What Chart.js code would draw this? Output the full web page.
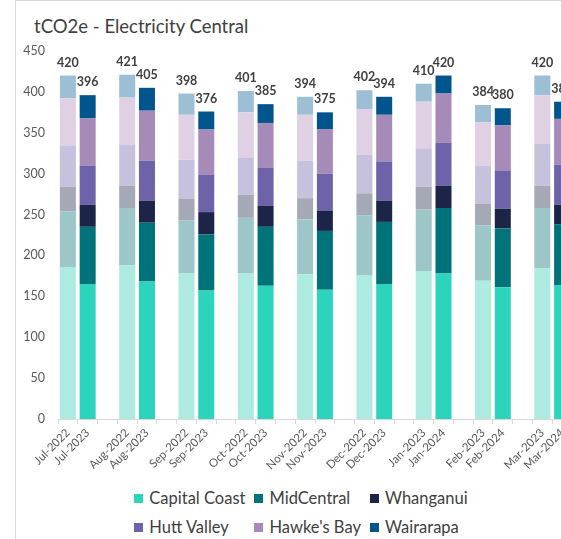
<!DOCTYPE html>
<html>
<head>
<meta charset="utf-8">
<script src="https://cdn.jsdelivr.net/npm/chart.js@4"></script>
<style>
  html, body { margin: 0; padding: 0; background: #fff; }
  body { width: 561px; height: 539px; overflow: hidden; position: relative; font-family: Lato, 'Open Sans', sans-serif; }
  .frame { position: absolute; left: 15px; top: 0; width: 620px; height: 620px; border-left: 1px solid #d9d9d9; border-top: 1px solid #d9d9d9; }
  .title { position: absolute; left: 34px; top: 15px; font-size: 18.5px; color: #404040; }
  #chartBox { position: absolute; left: 16px; top: 0; }
  #legend { position: absolute; left: 16px; top: 488px; width: 570px; display: flex; justify-content: center; }
  .legend-grid { display: grid; grid-template-columns: repeat(3, auto); column-gap: 9px; row-gap: 9px; }
  .legend-item { display: flex; align-items: center; font-size: 16.5px; line-height: 20px; color: #404040; white-space: nowrap; }
  .legend-item i { display: inline-block; width: 9px; height: 9px; margin-right: 6px; }
</style>
</head>
<body>
<div class="frame"></div>
<div class="title">tCO2e - Electricity Central</div>
<div id="chartBox"><canvas id="chart" width="560" height="482"></canvas></div>
<div id="legend"></div>

<script>
// one slot per bar, a blank slot between months
const categories = [
    'Jul-2022', 'Jul-2023', '',
    'Aug-2022', 'Aug-2023', '',
    'Sep-2022', 'Sep-2023', '',
    'Oct-2022', 'Oct-2023', '',
    'Nov-2022', 'Nov-2023', '',
    'Dec-2022', 'Dec-2023', '',
    'Jan-2023', 'Jan-2024', '',
    'Feb-2023', 'Feb-2024', '',
    'Mar-2023', 'Mar-2024'
];

// values per bar, prior year / current year alternating
const capitalCoast = [186, 165, 188, 168, 178, 157, 178, 163, 177, 158, 176, 165, 181, 178, 169, 161, 184, 164];
const midCentral   = [68, 70, 70, 72, 65, 69, 68, 72, 67, 72, 73, 76, 75, 80, 68, 72, 74, 74];
const whanganui    = [30, 27, 27, 27, 26, 27, 28, 26, 26, 25, 27, 26, 28, 27, 26, 24, 27, 24];
const huttValley   = [50, 48, 50, 49, 48, 46, 46, 46, 46, 45, 47, 48, 47, 53, 47, 47, 52, 49];
const hawkesBay    = [58, 58, 58, 61, 55, 55, 55, 55, 56, 54, 56, 57, 57, 60, 53, 55, 59, 56];
const wairarapa    = [28, 28, 28, 28, 26, 22, 26, 23, 22, 21, 23, 22, 22, 22, 21, 21, 24, 21];
const totals       = [420, 396, 421, 405, 398, 376, 401, 385, 394, 375, 402, 394, 410, 420, 384, 380, 420, 388];

const seriesNames = ['Capital Coast', 'MidCentral', 'Whanganui', 'Hutt Valley', "Hawke's Bay", 'Wairarapa'];
const seriesValues = [capitalCoast, midCentral, whanganui, huttValley, hawkesBay, wairarapa];
const fullColors  = ['#2dd4bc', '#00737a', '#1c2448', '#6e62a8', '#a68ab8', '#00558c'];
const fadedColors = ['#adebe0', '#9cc6c8', '#a5a9b5', '#c6c2de', '#dfd1e3', '#9dbfd6'];

const FONT = 'Lato, "Open Sans", sans-serif';

// bar i -> category slot (skipping the blank one after each pair)
const slotOf = i => Math.floor(i / 2) * 3 + (i % 2);

function spread(vals) {
    const out = categories.map(() => null);
    vals.forEach((v, i) => { out[slotOf(i)] = v; });
    return out;
}

const datasets = seriesNames.map((name, k) => ({
    label: name,
    data: spread(seriesValues[k]),
    backgroundColor: categories.map((c, j) => j % 3 === 0 ? fadedColors[k] : fullColors[k]),
    borderWidth: 0,
    barPercentage: 0.81,
    categoryPercentage: 1
}));

const totalLabels = {
    id: 'totalLabels',
    afterDatasetsDraw(chart) {
        const { ctx, scales: { x, y } } = chart;
        ctx.save();
        ctx.font = 'bold 12.5px ' + FONT;
        ctx.fillStyle = '#404040';
        ctx.textAlign = 'center';
        ctx.textBaseline = 'alphabetic';
        totals.forEach((t, i) => {
            const top = seriesValues.reduce((s, arr) => s + arr[i], 0);
            ctx.fillText(t, x.getPixelForValue(slotOf(i)), y.getPixelForValue(top) - 9);
        });
        ctx.restore();
    }
};

new Chart(document.getElementById('chart').getContext('2d'), {
    type: 'bar',
    data: { labels: categories, datasets },
    plugins: [totalLabels],
    options: {
        responsive: false,
        animation: false,
        layout: { padding: { left: 0, top: 51, right: 4, bottom: 0 } },
        plugins: { legend: { display: false }, tooltip: { enabled: false }, title: { display: false } },
        scales: {
            x: {
                stacked: true,
                grid: { display: true, drawOnChartArea: false, offset: true, tickLength: 5, color: '#d9d9d9' },
                border: { color: '#d9d9d9' },
                ticks: { autoSkip: false, minRotation: 45, maxRotation: 45, padding: 2, color: '#595959', font: { family: FONT, size: 11.5 } },
                afterFit(scale) { scale.height = 63; }
            },
            y: {
                stacked: true,
                min: 0,
                max: 450,
                grid: { display: false, drawTicks: false },
                border: { display: false },
                ticks: { stepSize: 50, padding: 13, color: '#595959', font: { family: FONT, size: 12.5 } },
                afterFit(scale) { scale.width = 42; }
            }
        }
    }
});

document.getElementById('legend').innerHTML =
    '<div class="legend-grid">' +
    seriesNames.map((n, k) => `<div class="legend-item"><i style="background:${fullColors[k]}"></i>${n}</div>`).join('') +
    '</div>';
</script>
</body>
</html>
